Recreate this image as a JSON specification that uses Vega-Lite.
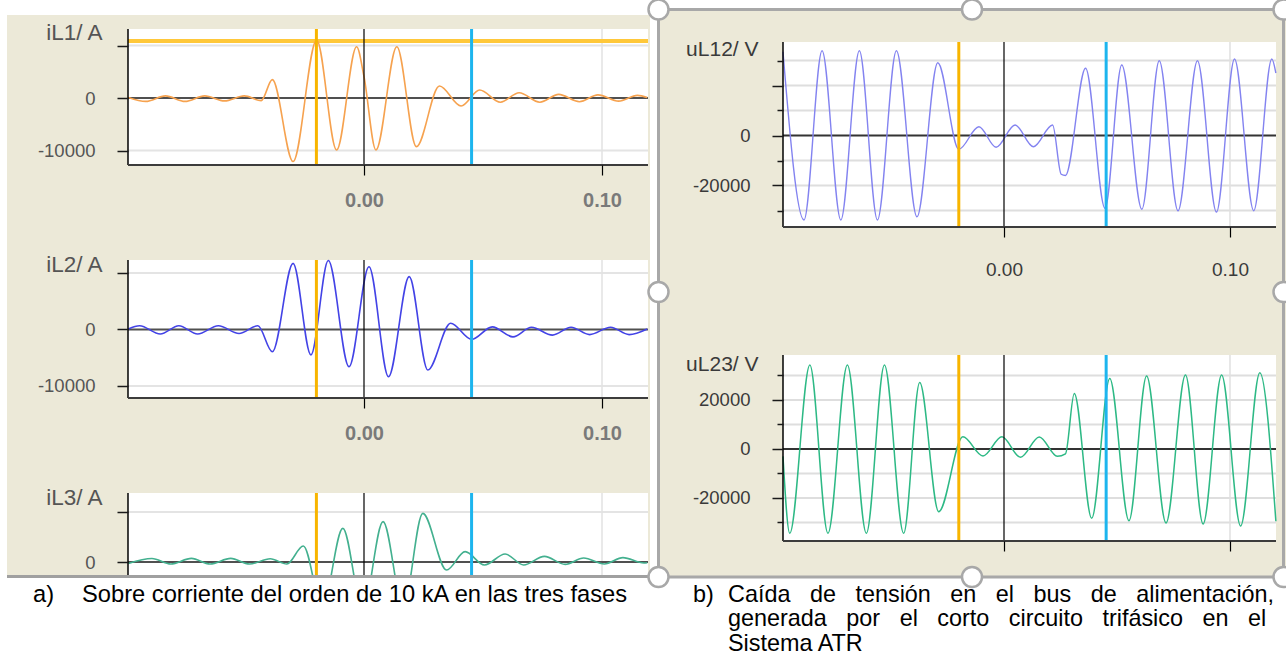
{
"$schema": "https://vega.github.io/schema/vega-lite/v6.json",
"width": 1286, "height": 661,
"autosize": {"type": "fit", "contains": "padding"},
"padding": 0,
"background": "#ECE9D8",
"config": {"view": {"stroke": null}, "axis": {"zindex": 1}},
"datasets": {
"iL1": [{"t":-0.0990,"v":100},{"t":-0.0917,"v":-650},{"t":-0.0834,"v":400},{"t":-0.0752,"v":-650},{"t":-0.0669,"v":400},{"t":-0.0586,"v":-550},{"t":-0.0503,"v":400},{"t":-0.0432,"v":-500},{"t":-0.0385,"v":3500},{"t":-0.0298,"v":-12100},{"t":-0.0199,"v":11050},{"t":-0.0115,"v":-9900},{"t":-0.0031,"v":9770},{"t":0.0,"v":4060},{"t":0.0050,"v":-9900},{"t":0.0138,"v":9770},{"t":0.0220,"v":-9270},{"t":0.0317,"v":2290},{"t":0.0408,"v":-1520},{"t":0.0486,"v":1520},{"t":0.0573,"v":-800},{"t":0.0652,"v":1000},{"t":0.0739,"v":-800},{"t":0.0818,"v":700},{"t":0.0905,"v":-700},{"t":0.0983,"v":600},{"t":0.1070,"v":-600},{"t":0.1149,"v":500},{"t":0.1190,"v":100}],
"iL2": [{"t":-0.0990,"v":100},{"t":-0.0943,"v":670},{"t":-0.0856,"v":-800},{"t":-0.0778,"v":670},{"t":-0.0699,"v":-800},{"t":-0.0612,"v":670},{"t":-0.0525,"v":-700},{"t":-0.0446,"v":670},{"t":-0.0385,"v":-3930},{"t":-0.0298,"v":11700},{"t":-0.0223,"v":-4500},{"t":-0.0150,"v":12200},{"t":-0.0063,"v":-6580},{"t":0.0021,"v":11100},{"t":0.0103,"v":-8350},{"t":0.0190,"v":9350},{"t":0.0268,"v":-7170},{"t":0.0364,"v":1100},{"t":0.0452,"v":-1740},{"t":0.0539,"v":470},{"t":0.0626,"v":-1300},{"t":0.0704,"v":400},{"t":0.0792,"v":-1000},{"t":0.0870,"v":400},{"t":0.0948,"v":-900},{"t":0.1036,"v":400},{"t":0.1114,"v":-900},{"t":0.1190,"v":100}],
"iL3": [{"t":-0.0990,"v":-300},{"t":-0.0891,"v":700},{"t":-0.0812,"v":-400},{"t":-0.0725,"v":730},{"t":-0.0647,"v":-400},{"t":-0.0560,"v":730},{"t":-0.0481,"v":-400},{"t":-0.0394,"v":650},{"t":-0.0324,"v":-400},{"t":-0.0255,"v":3200},{"t":-0.0175,"v":-9000},{"t":-0.0089,"v":6730},{"t":-0.0005,"v":-9500},{"t":0.0080,"v":8070},{"t":0.0165,"v":-9000},{"t":0.0247,"v":9730},{"t":0.0347,"v":-1600},{"t":0.0425,"v":2070},{"t":0.0506,"v":-600},{"t":0.0593,"v":1600},{"t":0.0671,"v":-600},{"t":0.0758,"v":1130},{"t":0.0845,"v":-470},{"t":0.0923,"v":800},{"t":0.1010,"v":-400},{"t":0.1088,"v":870},{"t":0.1176,"v":-200},{"t":0.1190,"v":-150}],
"uL12": [{"t":-0.0978,"v":33500},{"t":-0.0885,"v":-33800},{"t":-0.0805,"v":33900},{"t":-0.0722,"v":-33800},{"t":-0.0640,"v":33900},{"t":-0.0560,"v":-33800},{"t":-0.0476,"v":33900},{"t":-0.0385,"v":-32500},{"t":-0.0293,"v":29100},{"t":-0.0200,"v":-5500},{"t":-0.0111,"v":3500},{"t":-0.0035,"v":-4700},{"t":0.0049,"v":4200},{"t":0.0130,"v":-4500},{"t":0.0215,"v":4200},{"t":0.0253,"v":-15500},{"t":0.0272,"v":-16000},{"t":0.0361,"v":26900},{"t":0.0447,"v":-29100},{"t":0.0521,"v":28200},{"t":0.0610,"v":-29500},{"t":0.0687,"v":29900},{"t":0.0770,"v":-30100},{"t":0.0856,"v":29900},{"t":0.0940,"v":-30600},{"t":0.1020,"v":30600},{"t":0.1105,"v":-30100},{"t":0.1185,"v":30600},{"t":0.1203,"v":25000}],
"uL23": [{"t":-0.0978,"v":-3000},{"t":-0.0948,"v":-34400},{"t":-0.0859,"v":34300},{"t":-0.0779,"v":-34400},{"t":-0.0693,"v":34300},{"t":-0.0609,"v":-34400},{"t":-0.0529,"v":34300},{"t":-0.0444,"v":-34400},{"t":-0.0373,"v":27100},{"t":-0.0289,"v":-25600},{"t":-0.0182,"v":5000},{"t":-0.0093,"v":-2860},{"t":-0.0009,"v":5000},{"t":0.0073,"v":-3400},{"t":0.0156,"v":4900},{"t":0.0236,"v":-3000},{"t":0.0272,"v":-2000},{"t":0.0311,"v":22700},{"t":0.0388,"v":-28300},{"t":0.0468,"v":28800},{"t":0.0553,"v":-29300},{"t":0.0631,"v":29800},{"t":0.0717,"v":-30200},{"t":0.0803,"v":30200},{"t":0.0881,"v":-30600},{"t":0.0963,"v":30200},{"t":0.1047,"v":-31400},{"t":0.1132,"v":31150},{"t":0.1203,"v":-29500}]
},
"resolve": {"scale": {"x": "independent", "y": "independent"}},
"layer": [
{"resolve": {"axis": {"x": "independent", "y": "independent"}}, "layer": [
{"data":{"values":[{}]},"mark":{"type":"rect","color":"#FFFFFF"},"encoding":{"x":{"datum":-0.152941,"type":"quantitative","scale":{"domain":[-0.152941,0.387395],"nice":false,"zero":false},"axis":null},"x2":{"datum":0.123109},"y":{"datum":18667,"type":"quantitative","scale":{"domain":[-107238,18667],"nice":false,"zero":false},"axis":null},"y2":{"datum":15810}}},
{"data":{"values":[{}]},"mark":{"type":"rect","color":"#FFFFFF"},"encoding":{"x":{"datum":0.123109,"type":"quantitative","scale":{"domain":[-0.152941,0.387395],"nice":false,"zero":false},"axis":null},"x2":{"datum":0.387395},"y":{"datum":18667,"type":"quantitative","scale":{"domain":[-107238,18667],"nice":false,"zero":false},"axis":null},"y2":{"datum":17143}}},
{"data":{"values":[{}]},"mark":{"type":"rect","color":"#FFFFFF"},"encoding":{"x":{"datum":-0.152941,"type":"quantitative","scale":{"domain":[-0.152941,0.387395],"nice":false,"zero":false},"axis":null},"x2":{"datum":-0.15},"y":{"datum":18667,"type":"quantitative","scale":{"domain":[-107238,18667],"nice":false,"zero":false},"axis":null},"y2":{"datum":-91429}}},
{"data":{"values":[{}]},"mark":{"type":"rect","color":"#FFFFFF"},"encoding":{"x":{"datum":0.120168,"type":"quantitative","scale":{"domain":[-0.152941,0.387395],"nice":false,"zero":false},"axis":null},"x2":{"datum":0.123109},"y":{"datum":18667,"type":"quantitative","scale":{"domain":[-107238,18667],"nice":false,"zero":false},"axis":null},"y2":{"datum":-91429}}},
{"data":{"values":[{}]},"mark":{"type":"rect","color":"#FFFFFF"},"encoding":{"x":{"datum":-0.09916,"type":"quantitative","scale":{"domain":[-0.152941,0.387395],"nice":false,"zero":false},"axis":null},"x2":{"datum":0.119328},"y":{"datum":13143,"type":"quantitative","scale":{"domain":[-107238,18667],"nice":false,"zero":false},"axis":null},"y2":{"datum":-12762}}},
{"data":{"values":[{"g":10000},{"g":-10000}]},"mark":{"type":"rule","color":"#E4E4E4","strokeWidth":2},"encoding":{"x":{"datum":-0.09916,"type":"quantitative","scale":{"domain":[-0.152941,0.387395],"nice":false,"zero":false},"axis":null},"x2":{"datum":0.119328},"y":{"field":"g","type":"quantitative","scale":{"domain":[-107238,18667],"nice":false,"zero":false},"axis":null}}},
{"data":{"values":[{}]},"mark":{"type":"rule","color":"#E2E2E2","strokeWidth":1.5},"encoding":{"x":{"datum":0.1,"type":"quantitative","scale":{"domain":[-0.152941,0.387395],"nice":false,"zero":false},"axis":null},"y":{"datum":13143,"type":"quantitative","scale":{"domain":[-107238,18667],"nice":false,"zero":false},"axis":null},"y2":{"datum":-12762}}},
{"data":{"values":[{}]},"mark":{"type":"rule","color":"#505050","strokeWidth":2},"encoding":{"x":{"datum":-0.09916,"type":"quantitative","scale":{"domain":[-0.152941,0.387395],"nice":false,"zero":false},"axis":null},"x2":{"datum":0.119328},"y":{"datum":0,"type":"quantitative","scale":{"domain":[-107238,18667],"nice":false,"zero":false},"axis":null}}},
{"data":{"values":[{}]},"mark":{"type":"rule","color":"#FFC83A","strokeWidth":4},"encoding":{"x":{"datum":-0.09916,"type":"quantitative","scale":{"domain":[-0.152941,0.387395],"nice":false,"zero":false},"axis":null},"x2":{"datum":0.119328},"y":{"datum":10857,"type":"quantitative","scale":{"domain":[-107238,18667],"nice":false,"zero":false},"axis":null}}},
{"data":{"name":"iL1"},"mark":{"type":"line","interpolate":"monotone","color":"#F6A24F","strokeWidth":1.6},"encoding":{
 "x":{"field":"t","type":"quantitative","scale":{"domain":[-0.152941,0.387395],"nice":false,"zero":false},"axis":{"orient":"bottom","offset":-496,"values":[0,0.1],"format":".2f","domain":false,"grid":false,"tickSize":10,"tickWidth":1.2,"tickColor":"#000000","labelPadding":15,"labelFont":"Liberation Sans","labelFontSize":20,"labelFontWeight":"bold","labelColor":"#7A7A7A","labelFlush":false,"labelOverlap":false,"title":null,"zindex":1}},
 "y":{"field":"v","type":"quantitative","scale":{"domain":[-107238,18667],"nice":false,"zero":false},"axis":{"orient":"left","offset":-128,"values":[10000,0,-10000],"labelExpr":"datum.value == 10000 ? '' : toString(datum.value)","domain":false,"grid":false,"tickSize":11,"tickWidth":1.5,"tickColor":"#1A1A1A","labelPadding":22,"labelFont":"Liberation Sans","labelFontSize":18.5,"labelColor":"#555555","labelOverlap":false,"title":"iL1/ A","titleAngle":0,"titleX":-26,"titleY":39,"titleAlign":"right","titleBaseline":"alphabetic","titleFont":"Liberation Sans","titleFontSize":22.5,"titleFontWeight":"normal","titleColor":"#555555","zindex":1}}}},
{"data":{"values":[{}]},"mark":{"type":"rule","color":"#000000","strokeWidth":1.2},"encoding":{"x":{"datum":0,"type":"quantitative","scale":{"domain":[-0.152941,0.387395],"nice":false,"zero":false},"axis":null},"y":{"datum":13143,"type":"quantitative","scale":{"domain":[-107238,18667],"nice":false,"zero":false},"axis":null},"y2":{"datum":-12762}}},
{"data":{"values":[{}]},"mark":{"type":"rule","color":"#F8B500","strokeWidth":3},"encoding":{"x":{"datum":-0.02,"type":"quantitative","scale":{"domain":[-0.152941,0.387395],"nice":false,"zero":false},"axis":null},"y":{"datum":13143,"type":"quantitative","scale":{"domain":[-107238,18667],"nice":false,"zero":false},"axis":null},"y2":{"datum":-12762}}},
{"data":{"values":[{}]},"mark":{"type":"rule","color":"#1DB5EE","strokeWidth":3},"encoding":{"x":{"datum":0.0452,"type":"quantitative","scale":{"domain":[-0.152941,0.387395],"nice":false,"zero":false},"axis":null},"y":{"datum":13143,"type":"quantitative","scale":{"domain":[-107238,18667],"nice":false,"zero":false},"axis":null},"y2":{"datum":-12762}}},
{"data":{"values":[{}]},"mark":{"type":"rule","color":"#000000","strokeWidth":1.5},"encoding":{"x":{"datum":-0.09916,"type":"quantitative","scale":{"domain":[-0.152941,0.387395],"nice":false,"zero":false},"axis":null},"y":{"datum":13143,"type":"quantitative","scale":{"domain":[-107238,18667],"nice":false,"zero":false},"axis":null},"y2":{"datum":-12762}}},
{"data":{"values":[{}]},"mark":{"type":"rule","color":"#3C3C3C","strokeWidth":2},"encoding":{"x":{"datum":-0.09916,"type":"quantitative","scale":{"domain":[-0.152941,0.387395],"nice":false,"zero":false},"axis":null},"x2":{"datum":0.119328},"y":{"datum":-12762,"type":"quantitative","scale":{"domain":[-107238,18667],"nice":false,"zero":false},"axis":null}}}
]},
{"resolve": {"axis": {"x": "independent", "y": "independent"}}, "layer": [
{"data":{"values":[{}]},"mark":{"type":"rect","color":"#FFFFFF"},"encoding":{"x":{"datum":-0.09916,"type":"quantitative","scale":{"domain":[-0.152941,0.387395],"nice":false,"zero":false},"axis":null},"x2":{"datum":0.119328},"y":{"datum":12301,"type":"quantitative","scale":{"domain":[-58673,58319],"nice":false,"zero":false},"axis":null},"y2":{"datum":-12124}}},
{"data":{"values":[{"g":10000},{"g":-10000}]},"mark":{"type":"rule","color":"#E4E4E4","strokeWidth":2},"encoding":{"x":{"datum":-0.09916,"type":"quantitative","scale":{"domain":[-0.152941,0.387395],"nice":false,"zero":false},"axis":null},"x2":{"datum":0.119328},"y":{"field":"g","type":"quantitative","scale":{"domain":[-58673,58319],"nice":false,"zero":false},"axis":null}}},
{"data":{"values":[{}]},"mark":{"type":"rule","color":"#E2E2E2","strokeWidth":1.5},"encoding":{"x":{"datum":0.1,"type":"quantitative","scale":{"domain":[-0.152941,0.387395],"nice":false,"zero":false},"axis":null},"y":{"datum":12301,"type":"quantitative","scale":{"domain":[-58673,58319],"nice":false,"zero":false},"axis":null},"y2":{"datum":-12124}}},
{"data":{"values":[{}]},"mark":{"type":"rule","color":"#505050","strokeWidth":2},"encoding":{"x":{"datum":-0.09916,"type":"quantitative","scale":{"domain":[-0.152941,0.387395],"nice":false,"zero":false},"axis":null},"x2":{"datum":0.119328},"y":{"datum":0,"type":"quantitative","scale":{"domain":[-58673,58319],"nice":false,"zero":false},"axis":null}}},
{"data":{"name":"iL2"},"mark":{"type":"line","interpolate":"monotone","color":"#4343E6","strokeWidth":1.6},"encoding":{
 "x":{"field":"t","type":"quantitative","scale":{"domain":[-0.152941,0.387395],"nice":false,"zero":false},"axis":{"orient":"bottom","offset":-263,"values":[0,0.1],"format":".2f","domain":false,"grid":false,"tickSize":10,"tickWidth":1.2,"tickColor":"#000000","labelPadding":15,"labelFont":"Liberation Sans","labelFontSize":20,"labelFontWeight":"bold","labelColor":"#7A7A7A","labelFlush":false,"labelOverlap":false,"title":null,"zindex":1}},
 "y":{"field":"v","type":"quantitative","scale":{"domain":[-58673,58319],"nice":false,"zero":false},"axis":{"orient":"left","offset":-128,"values":[10000,0,-10000],"labelExpr":"datum.value == 10000 ? '' : toString(datum.value)","domain":false,"grid":false,"tickSize":11,"tickWidth":1.5,"tickColor":"#1A1A1A","labelPadding":22,"labelFont":"Liberation Sans","labelFontSize":18.5,"labelColor":"#555555","labelOverlap":false,"title":"iL2/ A","titleAngle":0,"titleX":-26,"titleY":271,"titleAlign":"right","titleBaseline":"alphabetic","titleFont":"Liberation Sans","titleFontSize":22.5,"titleFontWeight":"normal","titleColor":"#555555","zindex":1}}}},
{"data":{"values":[{}]},"mark":{"type":"rule","color":"#000000","strokeWidth":1.2},"encoding":{"x":{"datum":0,"type":"quantitative","scale":{"domain":[-0.152941,0.387395],"nice":false,"zero":false},"axis":null},"y":{"datum":12301,"type":"quantitative","scale":{"domain":[-58673,58319],"nice":false,"zero":false},"axis":null},"y2":{"datum":-12124}}},
{"data":{"values":[{}]},"mark":{"type":"rule","color":"#F8B500","strokeWidth":3},"encoding":{"x":{"datum":-0.02,"type":"quantitative","scale":{"domain":[-0.152941,0.387395],"nice":false,"zero":false},"axis":null},"y":{"datum":12301,"type":"quantitative","scale":{"domain":[-58673,58319],"nice":false,"zero":false},"axis":null},"y2":{"datum":-12124}}},
{"data":{"values":[{}]},"mark":{"type":"rule","color":"#1DB5EE","strokeWidth":3},"encoding":{"x":{"datum":0.0452,"type":"quantitative","scale":{"domain":[-0.152941,0.387395],"nice":false,"zero":false},"axis":null},"y":{"datum":12301,"type":"quantitative","scale":{"domain":[-58673,58319],"nice":false,"zero":false},"axis":null},"y2":{"datum":-12124}}},
{"data":{"values":[{}]},"mark":{"type":"rule","color":"#000000","strokeWidth":1.5},"encoding":{"x":{"datum":-0.09916,"type":"quantitative","scale":{"domain":[-0.152941,0.387395],"nice":false,"zero":false},"axis":null},"y":{"datum":12301,"type":"quantitative","scale":{"domain":[-58673,58319],"nice":false,"zero":false},"axis":null},"y2":{"datum":-12124}}},
{"data":{"values":[{}]},"mark":{"type":"rule","color":"#3C3C3C","strokeWidth":2},"encoding":{"x":{"datum":-0.09916,"type":"quantitative","scale":{"domain":[-0.152941,0.387395],"nice":false,"zero":false},"axis":null},"x2":{"datum":0.119328},"y":{"datum":-12124,"type":"quantitative","scale":{"domain":[-58673,58319],"nice":false,"zero":false},"axis":null}}}
]},
{"resolve": {"axis": {"x": "independent", "y": "independent"}}, "layer": [
{"data":{"values":[{}]},"mark":{"type":"rect","color":"#FFFFFF"},"encoding":{"x":{"datum":-0.09916,"type":"quantitative","scale":{"domain":[-0.152941,0.387395],"nice":false,"zero":false},"axis":null},"x2":{"datum":0.119328},"y":{"datum":13800,"type":"quantitative","scale":{"domain":[-19800,112400],"nice":false,"zero":false},"axis":null},"y2":{"datum":-2600}}},
{"data":{"values":[{"g":10000}]},"mark":{"type":"rule","color":"#E4E4E4","strokeWidth":2},"encoding":{"x":{"datum":-0.09916,"type":"quantitative","scale":{"domain":[-0.152941,0.387395],"nice":false,"zero":false},"axis":null},"x2":{"datum":0.119328},"y":{"field":"g","type":"quantitative","scale":{"domain":[-19800,112400],"nice":false,"zero":false},"axis":null}}},
{"data":{"values":[{}]},"mark":{"type":"rule","color":"#E2E2E2","strokeWidth":1.5},"encoding":{"x":{"datum":0.1,"type":"quantitative","scale":{"domain":[-0.152941,0.387395],"nice":false,"zero":false},"axis":null},"y":{"datum":13800,"type":"quantitative","scale":{"domain":[-19800,112400],"nice":false,"zero":false},"axis":null},"y2":{"datum":-2600}}},
{"data":{"values":[{}]},"mark":{"type":"rule","color":"#505050","strokeWidth":2},"encoding":{"x":{"datum":-0.09916,"type":"quantitative","scale":{"domain":[-0.152941,0.387395],"nice":false,"zero":false},"axis":null},"x2":{"datum":0.119328},"y":{"datum":0,"type":"quantitative","scale":{"domain":[-19800,112400],"nice":false,"zero":false},"axis":null}}},
{"data":{"name":"iL3"},"mark":{"type":"line","interpolate":"monotone","color":"#43B08F","strokeWidth":1.6},"encoding":{
 "x":{"field":"t","type":"quantitative","scale":{"domain":[-0.152941,0.387395],"nice":false,"zero":false},"axis":null},
 "y":{"field":"v","type":"quantitative","scale":{"domain":[-19800,112400],"nice":false,"zero":false},"axis":{"orient":"left","offset":-128,"values":[10000,0],"labelExpr":"datum.value == 10000 ? '' : toString(datum.value)","domain":false,"grid":false,"tickSize":11,"tickWidth":1.5,"tickColor":"#1A1A1A","labelPadding":22,"labelFont":"Liberation Sans","labelFontSize":18.5,"labelColor":"#555555","labelOverlap":false,"title":"iL3/ A","titleAngle":0,"titleX":-26,"titleY":504,"titleAlign":"right","titleBaseline":"alphabetic","titleFont":"Liberation Sans","titleFontSize":22.5,"titleFontWeight":"normal","titleColor":"#555555","zindex":1}}}},
{"data":{"values":[{}]},"mark":{"type":"rule","color":"#000000","strokeWidth":1.2},"encoding":{"x":{"datum":0,"type":"quantitative","scale":{"domain":[-0.152941,0.387395],"nice":false,"zero":false},"axis":null},"y":{"datum":13800,"type":"quantitative","scale":{"domain":[-19800,112400],"nice":false,"zero":false},"axis":null},"y2":{"datum":-2600}}},
{"data":{"values":[{}]},"mark":{"type":"rule","color":"#F8B500","strokeWidth":3},"encoding":{"x":{"datum":-0.02,"type":"quantitative","scale":{"domain":[-0.152941,0.387395],"nice":false,"zero":false},"axis":null},"y":{"datum":13800,"type":"quantitative","scale":{"domain":[-19800,112400],"nice":false,"zero":false},"axis":null},"y2":{"datum":-2600}}},
{"data":{"values":[{}]},"mark":{"type":"rule","color":"#1DB5EE","strokeWidth":3},"encoding":{"x":{"datum":0.0452,"type":"quantitative","scale":{"domain":[-0.152941,0.387395],"nice":false,"zero":false},"axis":null},"y":{"datum":13800,"type":"quantitative","scale":{"domain":[-19800,112400],"nice":false,"zero":false},"axis":null},"y2":{"datum":-2600}}},
{"data":{"values":[{}]},"mark":{"type":"rule","color":"#000000","strokeWidth":1.5},"encoding":{"x":{"datum":-0.09916,"type":"quantitative","scale":{"domain":[-0.152941,0.387395],"nice":false,"zero":false},"axis":null},"y":{"datum":13800,"type":"quantitative","scale":{"domain":[-19800,112400],"nice":false,"zero":false},"axis":null},"y2":{"datum":-2600}}},
{"data":{"values":[{}]},"mark":{"type":"rect","color":"#FFFFFF"},"encoding":{"x":{"datum":-0.152941,"type":"quantitative","scale":{"domain":[-0.152941,0.387395],"nice":false,"zero":false},"axis":null},"x2":{"datum":0.387395},"y":{"datum":-3200,"type":"quantitative","scale":{"domain":[-19800,112400],"nice":false,"zero":false},"axis":null},"y2":{"datum":-19800}}},
{"data":{"values":[{}]},"mark":{"type":"rule","color":"#A0A0A0","strokeWidth":3},"encoding":{"x":{"datum":-0.15,"type":"quantitative","scale":{"domain":[-0.152941,0.387395],"nice":false,"zero":false},"axis":null},"x2":{"datum":0.120168},"y":{"datum":-2900,"type":"quantitative","scale":{"domain":[-19800,112400],"nice":false,"zero":false},"axis":null}}},
{"data":{"values":[{"txt":"a)"}]},"mark":{"type":"text","align":"left","baseline":"middle","font":"Liberation Sans","fontSize":23.7,"color":"#000000"},"encoding":{"x":{"datum":-0.139076,"type":"quantitative","scale":{"domain":[-0.152941,0.387395],"nice":false,"zero":false},"axis":null},"y":{"datum":-6600,"type":"quantitative","scale":{"domain":[-19800,112400],"nice":false,"zero":false},"axis":null},"text":{"field":"txt"}}},
{"data":{"values":[{"txt":"Sobre corriente del orden de 10 kA en las tres fases"}]},"mark":{"type":"text","align":"left","baseline":"middle","font":"Liberation Sans","fontSize":23.7,"color":"#000000"},"encoding":{"x":{"datum":-0.118487,"type":"quantitative","scale":{"domain":[-0.152941,0.387395],"nice":false,"zero":false},"axis":null},"y":{"datum":-6600,"type":"quantitative","scale":{"domain":[-19800,112400],"nice":false,"zero":false},"axis":null},"text":{"field":"txt"}}}
]},
{"resolve": {"axis": {"x": "independent", "y": "independent"}}, "layer": [
{"data":{"values":[{}]},"mark":{"type":"rect","fillOpacity":0,"stroke":"#A8A8A8","strokeWidth":3},"encoding":{"x":{"datum":-0.152876,"type":"quantitative","scale":{"domain":[-0.444248,0.124779],"nice":false,"zero":false},"axis":null},"x2":{"datum":0.123673},"y":{"datum":50400,"type":"quantitative","scale":{"domain":[-210200,54200],"nice":false,"zero":false},"axis":null},"y2":{"datum":-176600}}},
{"data":{"values":[{}]},"mark":{"type":"point","shape":"circle","size":400,"filled":true,"fill":"#FFFFFF","stroke":"#A8A8A8","strokeWidth":2.5,"opacity":1,"clip":true},"encoding":{"x":{"datum":-0.014159,"type":"quantitative","scale":{"domain":[-0.444248,0.124779],"nice":false,"zero":false},"axis":null},"y":{"datum":50400,"type":"quantitative","scale":{"domain":[-210200,54200],"nice":false,"zero":false},"axis":null}}},
{"data":{"values":[{}]},"mark":{"type":"point","shape":"circle","size":400,"filled":true,"fill":"#FFFFFF","stroke":"#A8A8A8","strokeWidth":2.5,"opacity":1,"clip":true},"encoding":{"x":{"datum":-0.014159,"type":"quantitative","scale":{"domain":[-0.444248,0.124779],"nice":false,"zero":false},"axis":null},"y":{"datum":-176600,"type":"quantitative","scale":{"domain":[-210200,54200],"nice":false,"zero":false},"axis":null}}},
{"data":{"values":[{}]},"mark":{"type":"point","shape":"circle","size":400,"filled":true,"fill":"#FFFFFF","stroke":"#A8A8A8","strokeWidth":2.5,"opacity":1,"clip":true},"encoding":{"x":{"datum":-0.152876,"type":"quantitative","scale":{"domain":[-0.444248,0.124779],"nice":false,"zero":false},"axis":null},"y":{"datum":-62600,"type":"quantitative","scale":{"domain":[-210200,54200],"nice":false,"zero":false},"axis":null}}},
{"data":{"values":[{}]},"mark":{"type":"point","shape":"circle","size":400,"filled":true,"fill":"#FFFFFF","stroke":"#A8A8A8","strokeWidth":2.5,"opacity":1,"clip":true},"encoding":{"x":{"datum":0.123673,"type":"quantitative","scale":{"domain":[-0.444248,0.124779],"nice":false,"zero":false},"axis":null},"y":{"datum":-62600,"type":"quantitative","scale":{"domain":[-210200,54200],"nice":false,"zero":false},"axis":null}}},
{"data":{"values":[{}]},"mark":{"type":"point","shape":"circle","size":400,"filled":true,"fill":"#FFFFFF","stroke":"#A8A8A8","strokeWidth":2.5,"opacity":1,"clip":true},"encoding":{"x":{"datum":-0.152876,"type":"quantitative","scale":{"domain":[-0.444248,0.124779],"nice":false,"zero":false},"axis":null},"y":{"datum":50400,"type":"quantitative","scale":{"domain":[-210200,54200],"nice":false,"zero":false},"axis":null}}},
{"data":{"values":[{}]},"mark":{"type":"point","shape":"circle","size":400,"filled":true,"fill":"#FFFFFF","stroke":"#A8A8A8","strokeWidth":2.5,"opacity":1,"clip":true},"encoding":{"x":{"datum":0.123673,"type":"quantitative","scale":{"domain":[-0.444248,0.124779],"nice":false,"zero":false},"axis":null},"y":{"datum":50400,"type":"quantitative","scale":{"domain":[-210200,54200],"nice":false,"zero":false},"axis":null}}},
{"data":{"values":[{}]},"mark":{"type":"point","shape":"circle","size":400,"filled":true,"fill":"#FFFFFF","stroke":"#A8A8A8","strokeWidth":2.5,"opacity":1,"clip":true},"encoding":{"x":{"datum":-0.152876,"type":"quantitative","scale":{"domain":[-0.444248,0.124779],"nice":false,"zero":false},"axis":null},"y":{"datum":-176600,"type":"quantitative","scale":{"domain":[-210200,54200],"nice":false,"zero":false},"axis":null}}},
{"data":{"values":[{}]},"mark":{"type":"point","shape":"circle","size":400,"filled":true,"fill":"#FFFFFF","stroke":"#A8A8A8","strokeWidth":2.5,"opacity":1,"clip":true},"encoding":{"x":{"datum":0.123673,"type":"quantitative","scale":{"domain":[-0.444248,0.124779],"nice":false,"zero":false},"axis":null},"y":{"datum":-176600,"type":"quantitative","scale":{"domain":[-210200,54200],"nice":false,"zero":false},"axis":null}}},
{"data":{"values":[{}]},"mark":{"type":"rect","color":"#FFFFFF"},"encoding":{"x":{"datum":-0.097788,"type":"quantitative","scale":{"domain":[-0.444248,0.124779],"nice":false,"zero":false},"axis":null},"x2":{"datum":0.120354},"y":{"datum":37400,"type":"quantitative","scale":{"domain":[-210200,54200],"nice":false,"zero":false},"axis":null},"y2":{"datum":-36600}}},
{"data":{"values":[{"g":30000},{"g":20000},{"g":10000},{"g":-10000},{"g":-20000},{"g":-30000}]},"mark":{"type":"rule","color":"#DEDEDE","strokeWidth":2},"encoding":{"x":{"datum":-0.097788,"type":"quantitative","scale":{"domain":[-0.444248,0.124779],"nice":false,"zero":false},"axis":null},"x2":{"datum":0.120354},"y":{"field":"g","type":"quantitative","scale":{"domain":[-210200,54200],"nice":false,"zero":false},"axis":null}}},
{"data":{"values":[{}]},"mark":{"type":"rule","color":"#E0E0E0","strokeWidth":1.5},"encoding":{"x":{"datum":0.1,"type":"quantitative","scale":{"domain":[-0.444248,0.124779],"nice":false,"zero":false},"axis":null},"y":{"datum":37400,"type":"quantitative","scale":{"domain":[-210200,54200],"nice":false,"zero":false},"axis":null},"y2":{"datum":-36600}}},
{"data":{"values":[{}]},"mark":{"type":"rule","color":"#333333","strokeWidth":2.2},"encoding":{"x":{"datum":-0.097788,"type":"quantitative","scale":{"domain":[-0.444248,0.124779],"nice":false,"zero":false},"axis":null},"x2":{"datum":0.120354},"y":{"datum":0,"type":"quantitative","scale":{"domain":[-210200,54200],"nice":false,"zero":false},"axis":null}}},
{"data":{"name":"uL12"},"mark":{"type":"line","interpolate":"monotone","color":"#8383F0","strokeWidth":1.4},"encoding":{
 "x":{"field":"t","type":"quantitative","scale":{"domain":[-0.444248,0.124779],"nice":false,"zero":false},"axis":{"orient":"bottom","offset":-434,"values":[0,0.1],"format":".2f","domain":false,"grid":false,"tickSize":10,"tickWidth":1.2,"tickColor":"#000000","labelPadding":23,"labelFont":"Liberation Sans Narrow, Liberation Sans","labelFontSize":19,"labelColor":"#3A3A3A","labelFlush":false,"labelOverlap":false,"title":null,"zindex":1}},
 "y":{"field":"v","type":"quantitative","scale":{"domain":[-210200,54200],"nice":false,"zero":false},"axis":{"orient":"left","offset":-783,"values":[30000,20000,10000,0,-10000,-20000,-30000],"labelExpr":"(datum.value == 0 || datum.value == -20000) ? toString(datum.value) : ''","domain":false,"grid":false,"tickSize":{"condition":{"test":"datum.value % 20000 == 0","value":11},"value":6},"tickWidth":1.5,"tickColor":"#1A1A1A","labelPadding":22,"labelFont":"Liberation Sans Narrow, Liberation Sans","labelFontSize":18.5,"labelColor":"#3A3A3A","labelOverlap":false,"title":"uL12/ V","titleAngle":0,"titleX":-25,"titleY":55,"titleAlign":"right","titleBaseline":"alphabetic","titleFont":"Liberation Sans Narrow, Liberation Sans","titleFontSize":21,"titleFontWeight":"normal","titleColor":"#3A3A3A","zindex":1}}}},
{"data":{"values":[{}]},"mark":{"type":"rule","color":"#000000","strokeWidth":1.2},"encoding":{"x":{"datum":0,"type":"quantitative","scale":{"domain":[-0.444248,0.124779],"nice":false,"zero":false},"axis":null},"y":{"datum":37400,"type":"quantitative","scale":{"domain":[-210200,54200],"nice":false,"zero":false},"axis":null},"y2":{"datum":-36600}}},
{"data":{"values":[{}]},"mark":{"type":"rule","color":"#F8B500","strokeWidth":3},"encoding":{"x":{"datum":-0.02,"type":"quantitative","scale":{"domain":[-0.444248,0.124779],"nice":false,"zero":false},"axis":null},"y":{"datum":37400,"type":"quantitative","scale":{"domain":[-210200,54200],"nice":false,"zero":false},"axis":null},"y2":{"datum":-36600}}},
{"data":{"values":[{}]},"mark":{"type":"rule","color":"#1DB5EE","strokeWidth":3},"encoding":{"x":{"datum":0.0452,"type":"quantitative","scale":{"domain":[-0.444248,0.124779],"nice":false,"zero":false},"axis":null},"y":{"datum":37400,"type":"quantitative","scale":{"domain":[-210200,54200],"nice":false,"zero":false},"axis":null},"y2":{"datum":-36600}}},
{"data":{"values":[{}]},"mark":{"type":"rule","color":"#000000","strokeWidth":1.5},"encoding":{"x":{"datum":-0.097788,"type":"quantitative","scale":{"domain":[-0.444248,0.124779],"nice":false,"zero":false},"axis":null},"y":{"datum":37400,"type":"quantitative","scale":{"domain":[-210200,54200],"nice":false,"zero":false},"axis":null},"y2":{"datum":-36600}}},
{"data":{"values":[{}]},"mark":{"type":"rule","color":"#3C3C3C","strokeWidth":2},"encoding":{"x":{"datum":-0.097788,"type":"quantitative","scale":{"domain":[-0.444248,0.124779],"nice":false,"zero":false},"axis":null},"x2":{"datum":0.120354},"y":{"datum":-36600,"type":"quantitative","scale":{"domain":[-210200,54200],"nice":false,"zero":false},"axis":null}}}
]},
{"resolve": {"axis": {"x": "independent", "y": "independent"}}, "layer": [
{"data":{"values":[{}]},"mark":{"type":"rect","color":"#FFFFFF"},"encoding":{"x":{"datum":-0.097788,"type":"quantitative","scale":{"domain":[-0.444248,0.124779],"nice":false,"zero":false},"axis":null},"x2":{"datum":0.120354},"y":{"datum":38367,"type":"quantitative","scale":{"domain":[-86531,183265],"nice":false,"zero":false},"axis":null},"y2":{"datum":-37551}}},
{"data":{"values":[{"g":30000},{"g":20000},{"g":10000},{"g":-10000},{"g":-20000},{"g":-30000}]},"mark":{"type":"rule","color":"#DEDEDE","strokeWidth":2},"encoding":{"x":{"datum":-0.097788,"type":"quantitative","scale":{"domain":[-0.444248,0.124779],"nice":false,"zero":false},"axis":null},"x2":{"datum":0.120354},"y":{"field":"g","type":"quantitative","scale":{"domain":[-86531,183265],"nice":false,"zero":false},"axis":null}}},
{"data":{"values":[{}]},"mark":{"type":"rule","color":"#E0E0E0","strokeWidth":1.5},"encoding":{"x":{"datum":0.1,"type":"quantitative","scale":{"domain":[-0.444248,0.124779],"nice":false,"zero":false},"axis":null},"y":{"datum":38367,"type":"quantitative","scale":{"domain":[-86531,183265],"nice":false,"zero":false},"axis":null},"y2":{"datum":-37551}}},
{"data":{"values":[{}]},"mark":{"type":"rule","color":"#333333","strokeWidth":2.2},"encoding":{"x":{"datum":-0.097788,"type":"quantitative","scale":{"domain":[-0.444248,0.124779],"nice":false,"zero":false},"axis":null},"x2":{"datum":0.120354},"y":{"datum":0,"type":"quantitative","scale":{"domain":[-86531,183265],"nice":false,"zero":false},"axis":null}}},
{"data":{"name":"uL23"},"mark":{"type":"line","interpolate":"monotone","color":"#2DB985","strokeWidth":1.5},"encoding":{
 "x":{"field":"t","type":"quantitative","scale":{"domain":[-0.444248,0.124779],"nice":false,"zero":false},"axis":{"orient":"bottom","offset":-120,"values":[0,0.1],"labels":false,"domain":false,"grid":false,"tickSize":10,"tickWidth":1.2,"tickColor":"#000000","title":null,"zindex":1}},
 "y":{"field":"v","type":"quantitative","scale":{"domain":[-86531,183265],"nice":false,"zero":false},"axis":{"orient":"left","offset":-783,"values":[30000,20000,10000,0,-10000,-20000,-30000],"labelExpr":"(datum.value == 20000 || datum.value == 0 || datum.value == -20000) ? toString(datum.value) : ''","domain":false,"grid":false,"tickSize":{"condition":{"test":"datum.value % 20000 == 0","value":11},"value":6},"tickWidth":1.5,"tickColor":"#1A1A1A","labelPadding":22,"labelFont":"Liberation Sans Narrow, Liberation Sans","labelFontSize":18.5,"labelColor":"#3A3A3A","labelOverlap":false,"title":"uL23/ V","titleAngle":0,"titleX":-25,"titleY":370,"titleAlign":"right","titleBaseline":"alphabetic","titleFont":"Liberation Sans Narrow, Liberation Sans","titleFontSize":21,"titleFontWeight":"normal","titleColor":"#3A3A3A","zindex":1}}}},
{"data":{"values":[{}]},"mark":{"type":"rule","color":"#000000","strokeWidth":1.2},"encoding":{"x":{"datum":0,"type":"quantitative","scale":{"domain":[-0.444248,0.124779],"nice":false,"zero":false},"axis":null},"y":{"datum":38367,"type":"quantitative","scale":{"domain":[-86531,183265],"nice":false,"zero":false},"axis":null},"y2":{"datum":-37551}}},
{"data":{"values":[{}]},"mark":{"type":"rule","color":"#F8B500","strokeWidth":3},"encoding":{"x":{"datum":-0.02,"type":"quantitative","scale":{"domain":[-0.444248,0.124779],"nice":false,"zero":false},"axis":null},"y":{"datum":38367,"type":"quantitative","scale":{"domain":[-86531,183265],"nice":false,"zero":false},"axis":null},"y2":{"datum":-37551}}},
{"data":{"values":[{}]},"mark":{"type":"rule","color":"#1DB5EE","strokeWidth":3},"encoding":{"x":{"datum":0.0452,"type":"quantitative","scale":{"domain":[-0.444248,0.124779],"nice":false,"zero":false},"axis":null},"y":{"datum":38367,"type":"quantitative","scale":{"domain":[-86531,183265],"nice":false,"zero":false},"axis":null},"y2":{"datum":-37551}}},
{"data":{"values":[{}]},"mark":{"type":"rule","color":"#000000","strokeWidth":1.5},"encoding":{"x":{"datum":-0.097788,"type":"quantitative","scale":{"domain":[-0.444248,0.124779],"nice":false,"zero":false},"axis":null},"y":{"datum":38367,"type":"quantitative","scale":{"domain":[-86531,183265],"nice":false,"zero":false},"axis":null},"y2":{"datum":-37551}}},
{"data":{"values":[{}]},"mark":{"type":"rule","color":"#3C3C3C","strokeWidth":2},"encoding":{"x":{"datum":-0.097788,"type":"quantitative","scale":{"domain":[-0.444248,0.124779],"nice":false,"zero":false},"axis":null},"x2":{"datum":0.120354},"y":{"datum":-37551,"type":"quantitative","scale":{"domain":[-86531,183265],"nice":false,"zero":false},"axis":null}}},
{"data":{"values":[{"txt":"b)"}]},"mark":{"type":"text","align":"left","baseline":"middle","font":"Liberation Sans","fontSize":23.4,"color":"#000000"},"encoding":{"x":{"datum":-0.137611,"type":"quantitative","scale":{"domain":[-0.444248,0.124779],"nice":false,"zero":false},"axis":null},"y":{"datum":-59592,"type":"quantitative","scale":{"domain":[-86531,183265],"nice":false,"zero":false},"axis":null},"text":{"field":"txt"}}},
{"data":{"values":[{"txt":"Caída\u00a0\u00a0 de\u00a0\u00a0 tensión\u00a0\u00a0 en\u00a0\u00a0 el\u00a0\u00a0 bus\u00a0\u00a0 de\u00a0\u00a0 alimentación,"}]},"mark":{"type":"text","align":"left","baseline":"middle","font":"Liberation Sans","fontSize":23.4,"color":"#000000"},"encoding":{"x":{"datum":-0.122124,"type":"quantitative","scale":{"domain":[-0.444248,0.124779],"nice":false,"zero":false},"axis":null},"y":{"datum":-59592,"type":"quantitative","scale":{"domain":[-86531,183265],"nice":false,"zero":false},"axis":null},"text":{"field":"txt"}}},
{"data":{"values":[{"txt":"generada\u00a0\u00a0 por\u00a0\u00a0 el\u00a0\u00a0 corto\u00a0\u00a0 circuito\u00a0\u00a0 trifásico\u00a0\u00a0 en\u00a0\u00a0 el"}]},"mark":{"type":"text","align":"left","baseline":"middle","font":"Liberation Sans","fontSize":23.4,"color":"#000000"},"encoding":{"x":{"datum":-0.122124,"type":"quantitative","scale":{"domain":[-0.444248,0.124779],"nice":false,"zero":false},"axis":null},"y":{"datum":-69592,"type":"quantitative","scale":{"domain":[-86531,183265],"nice":false,"zero":false},"axis":null},"text":{"field":"txt"}}},
{"data":{"values":[{"txt":"Sistema ATR"}]},"mark":{"type":"text","align":"left","baseline":"middle","font":"Liberation Sans","fontSize":23.4,"color":"#000000"},"encoding":{"x":{"datum":-0.122124,"type":"quantitative","scale":{"domain":[-0.444248,0.124779],"nice":false,"zero":false},"axis":null},"y":{"datum":-79592,"type":"quantitative","scale":{"domain":[-86531,183265],"nice":false,"zero":false},"axis":null},"text":{"field":"txt"}}}
]}
]
}
